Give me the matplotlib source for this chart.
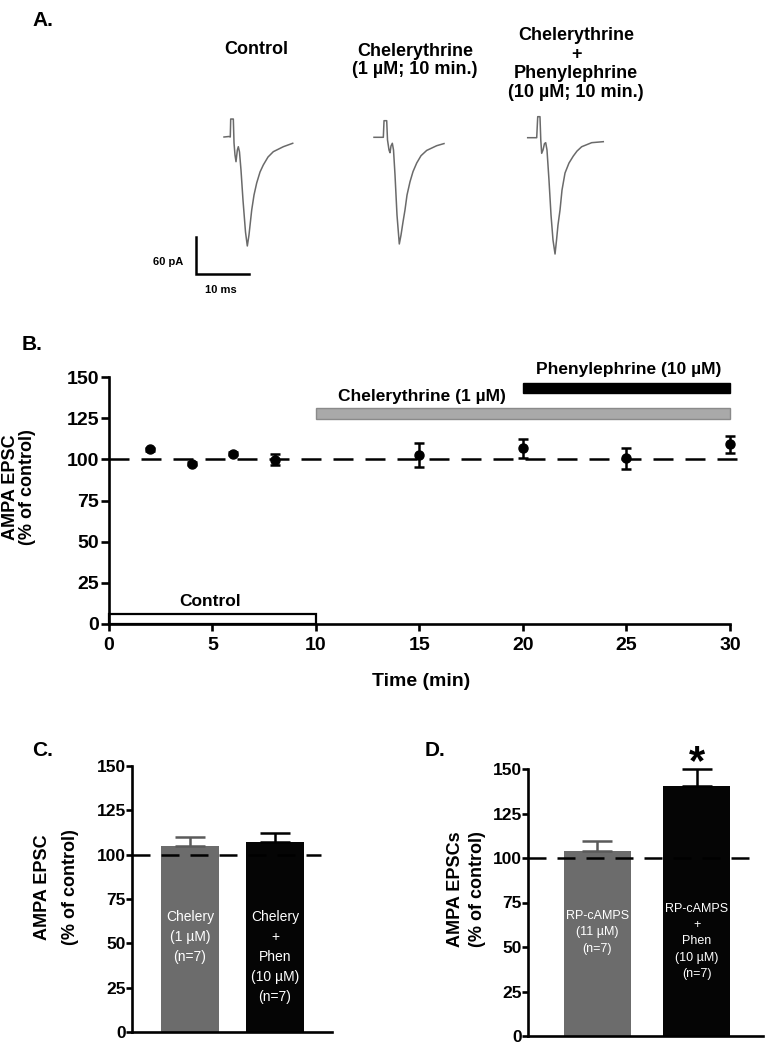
import matplotlib
matplotlib.use("Agg")
import matplotlib.pyplot as plt
from matplotlib.patches import Rectangle

plt.rcParams['font.family'] = ['Liberation Sans', 'DejaVu Sans']

# ---- data ----
# panel A: EPSC traces, time (ms) from trace start, current (pA) from baseline
ctrl_t = [0, 0.93, 1.17, 1.25, 1.74, 1.87, 2.05, 2.24, 2.49, 2.67, 2.89, 3.17, 3.54, 4.01,
          4.35, 4.66, 5.17, 5.6, 6.1, 6.72, 7.33, 8.21, 9.2, 11.07, 12.82]
ctrl_i = [0, 0.8, 0, 28.9, 28.9, -9.6, -28.9, -39.7, -20.9, -15.6, -24.1, -53.1, -101, -152.7,
          -175.2, -157.6, -117.4, -93.2, -73.9, -56.3, -45, -32.2, -23.6, -15.6, -10.1]
chel_t = [0, 1.74, 1.87, 2.37, 2.52, 2.8, 2.99, 3.17, 3.42, 3.64, 3.92, 4.29, 4.72, 5.04,
          5.41, 5.78, 6.16, 6.72, 7.28, 7.97, 8.77, 9.83, 11.7, 13.06]
chel_i = [0, 0, 26.7, 26.7, -4.3, -20.4, -24.8, -14, -9.6, -20.4, -60.6, -124.9, -171.5, -157.1,
          -136.2, -116.9, -92.8, -71.4, -55.1, -41.3, -29.6, -21.1, -13.5, -10.1]
phen_t = [0, 1.68, 1.87, 2.29, 2.44, 2.61, 2.85, 3.13, 3.36, 3.6, 3.97, 4.35, 4.72, 5.1,
          5.38, 5.65, 6.03, 6.4, 6.96, 7.7, 8.5, 9.2, 10.07, 11.94, 14.1]
phen_i = [0, 0, 33.8, 33.8, -3.7, -25.1, -19.9, -9.5, -8, -19.9, -68, -124.3, -164.5, -187,
          -164.5, -140.4, -116.3, -84.2, -56.8, -40.8, -29.6, -21.5, -14.5, -8, -6.4]
trace_titles = ['Control', 'Chelerythrine\n(1 µM; 10 min.)',
                'Chelerythrine\n+\nPhenylephrine\n(10 µM; 10 min.)']
scale_ms = 10
scale_pa = 60

# panel B: time course
time_min = [2, 4, 6, 8, 15, 20, 25, 30]
epsc_pct = [106.1, 97.4, 103.4, 99.8, 102.6, 106.6, 100.7, 109.1]
epsc_sem = [1, 1, 1, 3.2, 7.1, 5.6, 6.4, 5.1]
drug_names = ['Control', 'Chelerythrine (1 µM)', 'Phenylephrine (10 µM)']
drug_start = [0, 10, 20]
drug_end = [10, 30, 30]

# panel C and D: bar summaries
c_labels = ['Chelery\n(1 µM)\n(n=7)', 'Chelery\n+\nPhen\n(10 µM)\n(n=7)']
c_means = [105.1, 107.3]
c_sems = [5.1, 4.8]
d_labels = ['RP-cAMPS\n(11 µM)\n(n=7)', 'RP-cAMPS\n+\nPhen\n(10 µM)\n(n=7)']
d_means = [103.9, 140.4]
d_sems = [5.7, 9.6]

W, H = 767, 1050
fig = plt.figure(figsize=(W / 100, H / 100), dpi=100)


def fx(px):
    return px / W


def fy(py):
    return 1 - py / H


def letter(px, py, s):
    fig.text(fx(px), fy(py), s, fontsize=15, fontweight='bold', ha='left', va='center')


# ---------- A ----------
PX_MS, PX_PA = 5.36, 0.622
ax_a = fig.add_axes([0, fy(310), 1, 310 / H])
ax_a.set_xlim(0, W / PX_MS)
ax_a.set_ylim(-310 / PX_PA, 0)
ax_a.axis('off')
origins = [(224, 137), (374, 137.3), (527.7, 137.7)]
traces = [(ctrl_t, ctrl_i), (chel_t, chel_i), (phen_t, phen_i)]
for (ox, oy), (t, i) in zip(origins, traces):
    x0, y0 = ox / PX_MS, -oy / PX_PA
    ax_a.plot([v + x0 for v in t], [v + y0 for v in i], color='#6a6a6a', lw=1.1)

sx, sy = 195.7 / PX_MS, -274 / PX_PA
ax_a.plot([sx, sx, sx + scale_ms], [sy + scale_pa, sy, sy], color='black', lw=1.8,
          solid_joinstyle='miter')
fig.text(fx(168), fy(262), f'{scale_pa} pA', fontsize=8, fontweight='bold', ha='center', va='center')
fig.text(fx(221), fy(290), f'{scale_ms} ms', fontsize=8, fontweight='bold', ha='center', va='center')

title_pos = [(256, 49), (415, 60.5), (576, 64)]
for (px, py), s in zip(title_pos, trace_titles):
    fig.text(fx(px), fy(py), s, fontsize=13, fontweight='bold', ha='center', va='center',
             linespacing=1.15)
letter(32, 20, 'A.')

# ---------- B ----------
ax_b = fig.add_axes([fx(109), fy(624), 633.4 / W, 247 / H])
ax_b.set_xlim(0, 30.6)
ax_b.set_ylim(0, 150)
ax_b.axhline(100, color='black', lw=1.8, dashes=(8, 4.8), zorder=2)
ax_b.errorbar(time_min, epsc_pct, yerr=epsc_sem, fmt='o', color='black', ms=6.5,
              elinewidth=1.8, capsize=3.3, capthick=1.8, zorder=3, clip_on=False)

# treatment bars
bar_y = [0, 124.7, 140.5]
bar_h = [6.2, 6.4, 6.1]
bar_fc = ['white', '#a9a9a9', 'black']
bar_ec = ['black', '#8a8a8a', 'black']
bar_lw = [1.6, 1.0, 1.0]
text_x = [4.9, 15.1, 25.1]
text_y = [13.9, 138, 154.5]
for k, name in enumerate(drug_names):
    ax_b.add_patch(Rectangle((drug_start[k], bar_y[k]), drug_end[k] - drug_start[k], bar_h[k],
                             fc=bar_fc[k], ec=bar_ec[k], lw=bar_lw[k], clip_on=False, zorder=1))
    ax_b.text(text_x[k], text_y[k], name, fontsize=12.5,
              fontweight='bold', ha='center', va='center', clip_on=False)

for side in ['top', 'right']:
    ax_b.spines[side].set_visible(False)
for side in ['left', 'bottom']:
    ax_b.spines[side].set_linewidth(1.9)
ax_b.spines['bottom'].set_bounds(0, 30)
ax_b.set_xticks(range(0, 31, 5))
ax_b.set_yticks(range(0, 151, 25))
ax_b.tick_params(axis='y', length=5.5, width=1.9, pad=1.5, labelsize=14)
ax_b.tick_params(axis='x', length=5, width=1.9, pad=4, labelsize=14)
for lab in ax_b.get_xticklabels() + ax_b.get_yticklabels():
    lab.set_fontweight('bold')
fig.text(fx(421), fy(681), 'Time (min)', fontsize=14, fontweight='bold', ha='center', va='center')
fig.text(fx(19), fy(487), 'AMPA EPSC\n(% of control)', fontsize=13, fontweight='bold',
         rotation=90, ha='center', va='center', linespacing=1.05)
letter(22, 344, 'B.')


# ---------- C and D ----------
def bar_panel(rect, xlim, means, sems, labels, lab_size, lab_top, lab_space, dash_end):
    ax = fig.add_axes(rect)
    ax.set_xlim(*xlim)
    ax.set_ylim(0, 150)
    pos = range(len(means))
    colors = ['#6c6c6c', '#050505']
    err_colors = ['#5a5a5a', 'black']
    ax.bar(pos, means, width=0.68, color=colors, zorder=1)
    for p, m, s, ec in zip(pos, means, sems, err_colors):
        ax.errorbar([p], [m], yerr=[[0], [s]], fmt='none', ecolor=ec, elinewidth=1.8,
                    capsize=10.5, capthick=1.8, zorder=2, clip_on=False)
    ax.hlines(100, xlim[0], dash_end, color='black', lw=1.8, linestyles=(0, (7.2, 4.4)),
              zorder=3, clip_on=False)
    for p, s, top in zip(pos, labels, lab_top):
        ax.text(p, top, s, color='white', fontsize=lab_size, ha='center', va='top',
                linespacing=lab_space)
    for side in ['top', 'right']:
        ax.spines[side].set_visible(False)
    for side in ['left', 'bottom']:
        ax.spines[side].set_linewidth(1.9)
    ax.set_xticks([])
    ax.set_yticks(range(0, 151, 25))
    ax.tick_params(axis='y', length=4, width=1.9, pad=0.5, labelsize=12.5)
    for lab in ax.get_yticklabels():
        lab.set_fontweight('bold')
    return ax


bar_panel([fx(132), fy(1032), 200 / W, 266 / H], (-0.68, 1.67), c_means, c_sems, c_labels,
          10, [69, 69], 1.55, 1.54)
fig.text(fx(56.5), fy(887), 'AMPA EPSC\n(% of control)', fontsize=13, fontweight='bold',
         rotation=90, ha='center', va='center', linespacing=1.9)
letter(32, 750, 'C.')

ax_d = bar_panel([fx(528), fy(1036), 235 / W, 267 / H], (-0.70, 1.67), d_means, d_sems, d_labels,
                 9, [71, 75], 1.5, 1.57)
ax_d.text(1, 147, '*', fontsize=30, fontweight='bold', ha='center', va='baseline', clip_on=False)
fig.text(fx(466.5), fy(889), 'AMPA EPSCs\n(% of control)', fontsize=13, fontweight='bold',
         rotation=90, ha='center', va='center', linespacing=1.4)
letter(425, 750, 'D.')

fig.savefig('out.png', dpi=100)
